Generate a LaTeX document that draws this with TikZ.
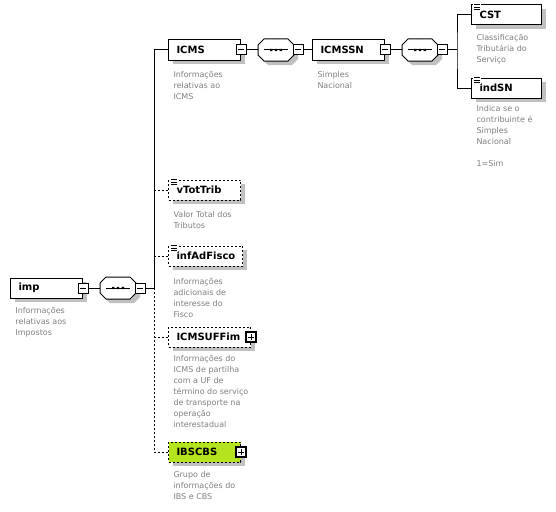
\documentclass[tikz,border=0pt]{standalone}
\usepackage{fontspec}
\setmainfont{DejaVu Sans}
\usetikzlibrary{shadows,calc}
\definecolor{shadowc}{RGB}{192,192,192}
\definecolor{descc}{RGB}{128,128,128}
\definecolor{ibsc}{RGB}{180,228,30}
\newcommand\seqoct[1]{%
  \fill[shadowc] ([shift={(4,4)}]#1.center) +(-12,-11) -- +(12,-11) -- +(18,-5) -- +(18,5) -- +(12,11) -- +(-12,11) -- +(-18,5) -- +(-18,-5) -- cycle;
  \draw[fill=white] (#1.center) +(-12,-11) -- +(12,-11) -- +(18,-5) -- +(18,5) -- +(12,11) -- +(-12,11) -- +(-18,5) -- +(-18,-5) -- cycle;
  \draw (#1.center) +(-12,0) -- +(12,0);
  \fill (#1.center) +(-6,-1.2) rectangle +(-3.6,1.2) +(-1.2,-1.2) rectangle +(1.2,1.2) +(3.6,-1.2) rectangle +(6,1.2);
}
\newcommand\simpleicon[1]{%
  \fill[white] ([shift={(2,-1)}]#1.north west) rectangle ++(8,7);
  \draw[line width=0.8pt] ([shift={(3,0)}]#1.north west) -- ++(6,0)
    ([shift={(3,2.5)}]#1.north west) -- ++(6,0)
    ([shift={(3,5)}]#1.north west) -- ++(6,0);
}
\begin{document}
\begin{tikzpicture}[x=1pt,y=-1pt,line width=1pt,
  elem/.style={draw, fill=white, minimum height=20pt, text width=#1, inner xsep=8pt, inner ysep=0pt,
    align=left, anchor=west, font=\fontsize{10}{11}\bfseries\selectfont,
    drop shadow={shadow xshift=4pt, shadow yshift=-4pt, fill=shadowc, opacity=1}},
  opt/.style={dash pattern=on 2pt off 2pt},
  desc/.style={anchor=north west, inner sep=0pt, align=left, text=descc, font=\fontsize{8}{11}\selectfont},
  minusbox/.style={draw, fill=white, minimum size=10pt, inner sep=0pt, line width=1pt,
    path picture={\draw[line width=1pt] ([xshift=2pt]path picture bounding box.west) -- ([xshift=-2pt]path picture bounding box.east);}},
  plusbox/.style={draw, fill=white, minimum size=10pt, inner sep=0pt, line width=1.5pt,
    path picture={\draw[line width=1pt] ([xshift=2pt]path picture bounding box.west) -- ([xshift=-2pt]path picture bounding box.east);
      \draw[line width=1pt] ([yshift=-2pt]path picture bounding box.north) -- ([yshift=2pt]path picture bounding box.south);}},
  seqnode/.style={minimum width=36pt, minimum height=22pt, inner sep=0pt}]
\useasboundingbox (0,0) rectangle (556,511);
\fill[white] (0,0) rectangle (556,511);

% root
\node[elem=56] (imp) at (10,288) {imp};
\node[minusbox] (impm) at (imp.east) {};
\node[seqnode] (seq1) at (118,288) {};
\seqoct{seq1}
\node[minusbox] (seq1m) at (140,288) {};
\coordinate (j1) at (154,288);
\draw (impm.east) -- (seq1.west);
\draw (seq1m.east) -- (j1);
\node[desc] (impd) at (15,307) {Informações\\relativas aos\\Impostos};

% ICMS branch
\node[elem=56] (icms) at (168,50) {ICMS};
\node[minusbox] (icmsm) at (icms.east) {};
\node[seqnode] (seq2) at (276,50) {};
\seqoct{seq2}
\node[minusbox] (seq2m) at (298,50) {};
\node[elem=56] (icmssn) at (312,50) {ICMSSN};
\node[minusbox] (icmssnm) at (icmssn.east) {};
\node[seqnode] (seq3) at (420,50) {};
\seqoct{seq3}
\node[minusbox] (seq3m) at (442,50) {};
\coordinate (j2) at (457,50);
\node[elem=54] (cst) at (471,15) {CST};
\simpleicon{cst}
\node[elem=54] (indsn) at (471,88) {indSN};
\simpleicon{indsn}
\draw (icmsm.east) -- (seq2.west);
\draw (seq2m.east) -- (icmssn.west);
\draw (icmssnm.east) -- (seq3.west);
\draw (seq3m.east) -- (j2);
\draw (cst.west) -| (j2) |- (indsn.west);
\node[desc] (icmsd) at (173,71) {Informações\\relativas ao\\ICMS};
\node[desc] (icmssnd) at (317,71) {Simples\\Nacional};
\node[desc] (cstd) at (476,34) {Classificação\\Tributária do\\Serviço};
\node[desc] (indsnd) at (476,105) {Indica se o\\contribuinte é\\Simples\\Nacional\\[11pt]1=Sim};

% optional children
\node[elem=56, opt] (vtot) at (168,190) {vTotTrib};
\simpleicon{vtot}
\node[elem=58, opt] (infad) at (168,256) {infAdFisco};
\simpleicon{infad}
\node[elem=66, opt] (uffim) at (168,337) {ICMSUFFim};
\node[plusbox] (uffimp) at (uffim.east) {};
\node[elem=56, opt, fill=ibsc] (ibs) at (168,452) {IBSCBS};
\node[plusbox] (ibsp) at (ibs.east) {};

% trunk
\draw (icms.west) -| (j1);
\draw[opt] (j1) |- (ibs.west);
\draw[opt] (vtot.west) -- (vtot.west -| j1);
\draw[opt] (infad.west) -- (infad.west -| j1);
\draw[opt] (uffim.west) -- (uffim.west -| j1);

\node[desc] (vtotd) at (173,211) {Valor Total dos\\Tributos};
\node[desc] (infadd) at (173,278) {Informações\\adicionais de\\interesse do\\Fisco};
\node[desc] (uffimd) at (173,355) {Informações do\\ICMS de partilha\\com a UF de\\término do serviço\\de transporte na\\operação\\interestadual};
\node[desc] (ibsd) at (173,471) {Grupo de\\informações do\\IBS e CBS};
\end{tikzpicture}
\end{document}
